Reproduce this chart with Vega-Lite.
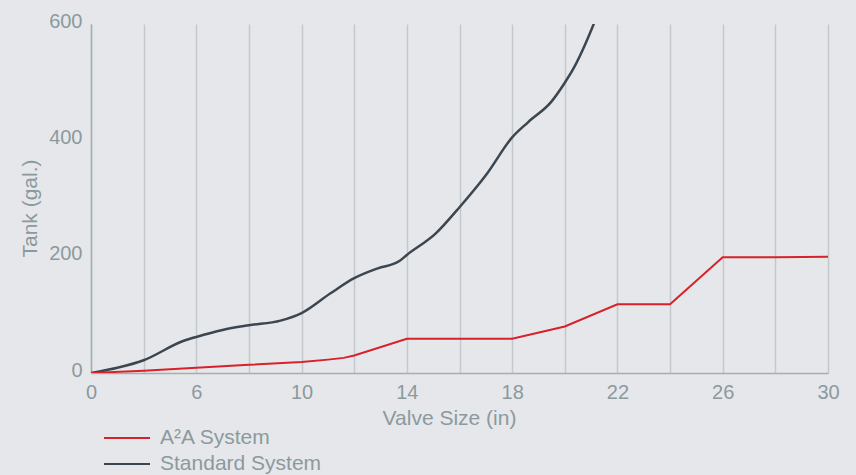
{
  "$schema": "https://vega.github.io/schema/vega-lite/v6.json",
  "autosize": {"type": "none"},
  "padding": {"left": 91, "top": 24, "right": 28, "bottom": 102},
  "width": 737,
  "height": 349,
  "background": "#e6e7ea",
  "config": {
    "view": {"stroke": null},
    "font": "Liberation Sans",
    "axis": {
      "labelFont": "Liberation Sans",
      "titleFont": "Liberation Sans",
      "labelColor": "#8b9a9e",
      "titleColor": "#8b9a9e",
      "labelFontSize": 20,
      "titleFontSize": 20,
      "titleFontWeight": "normal",
      "domainColor": "#a4aeb2",
      "domainWidth": 1.5,
      "ticks": false
    },
    "legend": {
      "labelFont": "Liberation Sans",
      "labelColor": "#8b9a9e",
      "labelFontSize": 20
    }
  },
  "data": {
    "values": [
      {"series": "A²A System", "valve": 0, "tank": 0},
      {"series": "A²A System", "valve": 3, "tank": 4},
      {"series": "A²A System", "valve": 6, "tank": 9},
      {"series": "A²A System", "valve": 8, "tank": 14},
      {"series": "A²A System", "valve": 10, "tank": 19},
      {"series": "A²A System", "valve": 11, "tank": 23},
      {"series": "A²A System", "valve": 11.6, "tank": 26},
      {"series": "A²A System", "valve": 12, "tank": 30},
      {"series": "A²A System", "valve": 14, "tank": 59},
      {"series": "A²A System", "valve": 16, "tank": 59},
      {"series": "A²A System", "valve": 18, "tank": 59},
      {"series": "A²A System", "valve": 20, "tank": 80},
      {"series": "A²A System", "valve": 22, "tank": 118},
      {"series": "A²A System", "valve": 24, "tank": 118},
      {"series": "A²A System", "valve": 26, "tank": 199},
      {"series": "A²A System", "valve": 28, "tank": 199},
      {"series": "A²A System", "valve": 30, "tank": 200},
      {"series": "Standard System", "valve": 0, "tank": 0},
      {"series": "Standard System", "valve": 1.5, "tank": 9},
      {"series": "Standard System", "valve": 3, "tank": 22},
      {"series": "Standard System", "valve": 5.25, "tank": 55},
      {"series": "Standard System", "valve": 6, "tank": 62},
      {"series": "Standard System", "valve": 7, "tank": 74},
      {"series": "Standard System", "valve": 8, "tank": 82},
      {"series": "Standard System", "valve": 9.2, "tank": 90},
      {"series": "Standard System", "valve": 10, "tank": 103},
      {"series": "Standard System", "valve": 11.1, "tank": 137},
      {"series": "Standard System", "valve": 12, "tank": 163},
      {"series": "Standard System", "valve": 12.9, "tank": 180},
      {"series": "Standard System", "valve": 13.7, "tank": 192},
      {"series": "Standard System", "valve": 14, "tank": 203},
      {"series": "Standard System", "valve": 15.1, "tank": 240},
      {"series": "Standard System", "valve": 16, "tank": 285},
      {"series": "Standard System", "valve": 17.05, "tank": 343},
      {"series": "Standard System", "valve": 18, "tank": 405},
      {"series": "Standard System", "valve": 18.6, "tank": 431},
      {"series": "Standard System", "valve": 19.5, "tank": 467},
      {"series": "Standard System", "valve": 20, "tank": 499},
      {"series": "Standard System", "valve": 20.3, "tank": 521},
      {"series": "Standard System", "valve": 21.1, "tank": 600},
      {"series": "Standard System", "valve": 21.6, "tank": 660}
    ]
  },
  "encoding": {
    "x": {
      "field": "valve",
      "type": "quantitative",
      "scale": {"domain": [0, 6, 30], "range": [0, 105.29, 737], "nice": false, "zero": false},
      "axis": {
        "title": "Valve Size (in)",
        "values": [0, 3, 6, 8, 10, 12, 14, 16, 18, 20, 22, 24, 26, 28, 30],
        "labelExpr": "datum.value == 3 || (datum.value % 4 == 0 && datum.value > 0) ? '' : datum.label",
        "grid": true,
        "gridColor": "#c3c9cc",
        "gridWidth": 1.5,
        "labelPadding": 9,
        "labelFlush": false,
        "labelOverlap": false,
        "titleX": 358,
        "titleY": 51,
        "titleBaseline": "alphabetic",
        "titleFontSize": 21
      }
    },
    "y": {
      "field": "tank",
      "type": "quantitative",
      "scale": {"domain": [0, 600], "nice": false},
      "axis": {
        "title": "Tank (gal.)",
        "values": [0, 200, 400, 600],
        "grid": false,
        "labelPadding": 9,
        "labelOffset": -3,
        "titleX": -55,
        "titleY": 184,
        "titleAngle": -90,
        "titleAlign": "center",
        "titleBaseline": "alphabetic",
        "titleFontSize": 21
      }
    },
    "color": {
      "field": "series",
      "type": "nominal",
      "scale": {"domain": ["A²A System", "Standard System"], "range": ["#d7212b", "#3c4650"]},
      "legend": {
        "title": null,
        "orient": "none",
        "legendX": 25,
        "legendY": 403,
        "symbolType": "M-2.3,0H2.3",
        "symbolSize": 400,
        "symbolStrokeWidth": 2,
        "labelOffset": 22,
        "labelFontSize": 21,
        "labelLimit": 400,
        "rowPadding": 5
      }
    }
  },
  "layer": [
    {
      "transform": [{"filter": "datum.series == 'Standard System'"}],
      "mark": {"type": "line", "interpolate": "monotone", "strokeWidth": 2.5, "clip": true}
    },
    {
      "transform": [{"filter": "datum.series == 'A²A System'"}],
      "mark": {"type": "line", "interpolate": "linear", "strokeWidth": 2, "clip": true}
    }
  ]
}
